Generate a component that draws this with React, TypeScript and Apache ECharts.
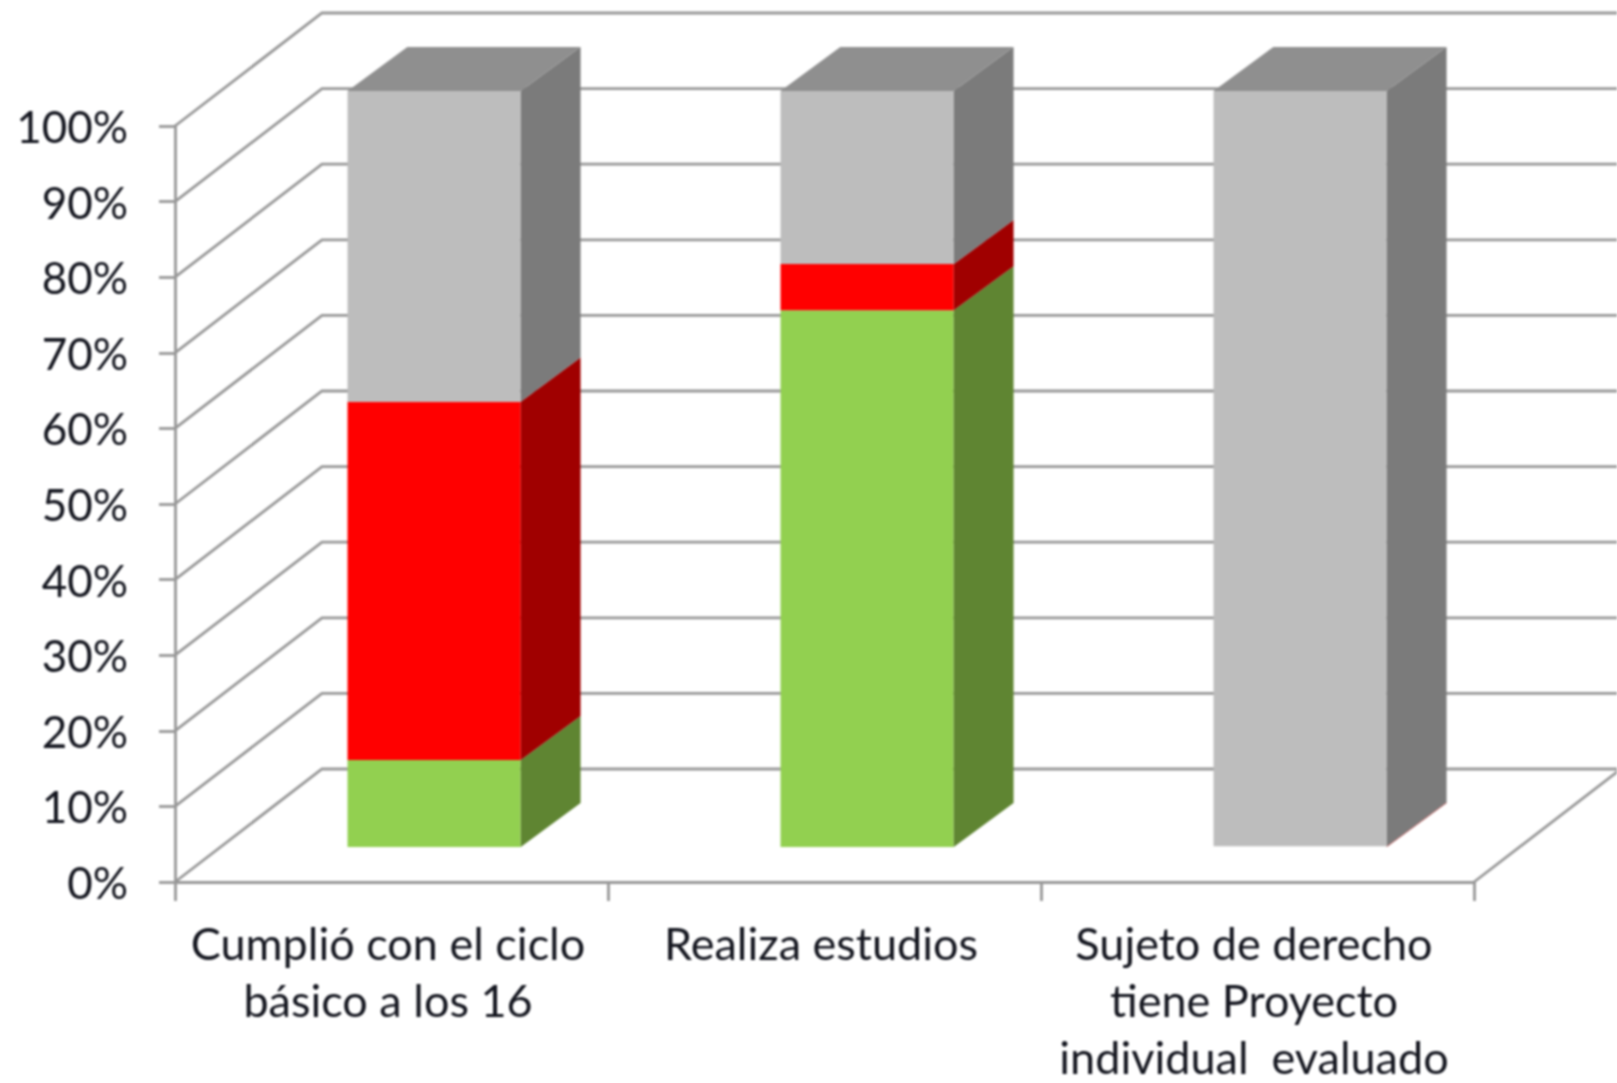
import React, { useEffect, useRef } from "react";
import * as echarts from "echarts";

const categories = [
  "Cumplió con el ciclo\nbásico a los 16",
  "Realiza estudios",
  "Sujeto de derecho\ntiene Proyecto\nindividual  evaluado",
];
const verde = [11.5, 71, 0];
const rojo = [47.4, 6.1, 0.1];
const gris = [41.1, 22.9, 99.9];
const gridValues = [0, 10, 20, 30, 40, 50, 60, 70, 80, 90, 100];

const FONT = "Lato";
const TEXT = "#14161f";
const LINE = "#989898";
const LINE_WIDTH = 2.8;

// Oblique projection of the 3D plot: offset in pixels of the back wall and of the bar's two depth planes
const WALL = [147, -113];
const NEAR = [0.29, 0.31];
const FAR = [0.697, 0.7];
const BAR_WIDTH = 0.4;

const shift = (p: number[], d: number[]) => [p[0] + WALL[0] * d[0], p[1] + WALL[1] * d[1]];
const BACK = [1, 1];

const renderWall = (params: any, api: any) => {
  const v = api.value(0);
  const band = api.size([1, 0])[0];
  const front = api.coord([0, v]);
  const left = [front[0] - band / 2, front[1]];
  const last = api.coord([categories.length - 1, v]);
  const right = [last[0] + band / 2, last[1]];
  const style = { stroke: LINE, lineWidth: LINE_WIDTH, fill: "none" };
  const points =
    v === 0
      ? [left, shift(left, BACK), shift(right, BACK), right]
      : [left, shift(left, BACK), shift(right, BACK)];
  return { type: "polyline", shape: { points }, style };
};

const makeBarRender = (front: string, side: string, top: string) => (params: any, api: any) => {
  const cat = api.value(0);
  const from = api.value(1);
  const to = api.value(2);
  const band = api.size([1, 0])[0];
  const half = (band * BAR_WIDTH) / 2;
  const a = api.coord([cat, from]);
  const b = api.coord([cat, to]);
  const near = (x: number, y: number) => shift([x, y], NEAR);
  const far = (x: number, y: number) => shift([x, y], FAR);
  const xl = a[0] - half;
  const xr = a[0] + half;
  const children: any[] = [];
  if (to - from > 0.2) {
    children.push({
      type: "polygon",
      shape: { points: [near(xl, a[1]), near(xr, a[1]), near(xr, b[1]), near(xl, b[1])] },
      style: { fill: front },
    });
  }
  children.push({
    type: "polygon",
    shape: { points: [near(xr, a[1]), far(xr, a[1]), far(xr, b[1]), near(xr, b[1])] },
    style: { fill: side },
  });
  if (to >= 99.9) {
    children.push({
      type: "polygon",
      shape: { points: [near(xl, b[1]), near(xr, b[1]), far(xr, b[1]), far(xl, b[1])] },
      style: { fill: top },
    });
  }
  return { type: "group", children };
};

const segment = (name: string, values: number[], below: number[][], c: string[]) => ({
  name,
  type: "custom",
  coordinateSystem: "cartesian2d",
  clip: false,
  silent: true,
  encode: { x: 0, y: [1, 2] },
  renderItem: makeBarRender(c[0], c[1], c[2]),
  data: values.map((v, i) => {
    const start = below.reduce((s, arr) => s + arr[i], 0);
    return [i, start, start + v];
  }),
});

export default function App() {
  const ref = useRef<HTMLDivElement>(null);
  useEffect(() => {
    document.body.style.margin = "0";
    const chart = echarts.init(ref.current!, undefined, { renderer: "svg" });
    chart.setOption({
      animation: false,
      backgroundColor: "#ffffff",
      grid: {
        left: 175,
        top: 126,
        width: 1299,
        height: 756,
        containLabel: false,
        outerBoundsMode: "none",
      },
      xAxis: {
        type: "category",
        data: categories,
        axisLine: { lineStyle: { color: LINE, width: LINE_WIDTH } },
        axisTick: { show: true, length: 19, lineStyle: { color: LINE, width: LINE_WIDTH } },
        axisLabel: {
          interval: 0,
          margin: 32,
          fontFamily: FONT,
          fontSize: 45,
          color: TEXT,
          lineHeight: 57,
          padding: [0, 7, 0, 0],
        },
        splitLine: { show: false },
      },
      yAxis: {
        type: "value",
        min: 0,
        max: 100,
        interval: 10,
        axisLine: { show: true, lineStyle: { color: LINE, width: LINE_WIDTH } },
        axisTick: { show: true, length: 16, lineStyle: { color: LINE, width: LINE_WIDTH } },
        axisLabel: {
          formatter: "{value}%",
          margin: 47,
          fontFamily: FONT,
          fontSize: 44,
          color: TEXT,
          padding: [13, 0, 0, 0],
        },
        splitLine: { show: false },
      },
      series: [
        {
          name: "Cuadrícula",
          type: "custom",
          coordinateSystem: "cartesian2d",
          clip: false,
          silent: true,
          encode: { y: 0 },
          renderItem: renderWall,
          data: gridValues.map((v) => [v]),
        },
        segment("Verde", verde, [], ["#92d050", "#5f8532", "#7aa83f"]),
        segment("Rojo", rojo, [verde], ["#ff0000", "#a00000", "#c00000"]),
        segment("Gris", gris, [verde, rojo], ["#bdbdbd", "#7b7b7b", "#8f8f8f"]),
      ],
    });
    return () => chart.dispose();
  }, []);
  return (
    <div
      ref={ref}
      style={{
        position: "fixed",
        left: 0,
        top: 0,
        width: 1617,
        height: 1083,
        overflow: "hidden",
        filter: "blur(0.8px)",
      }}
    />
  );
}
